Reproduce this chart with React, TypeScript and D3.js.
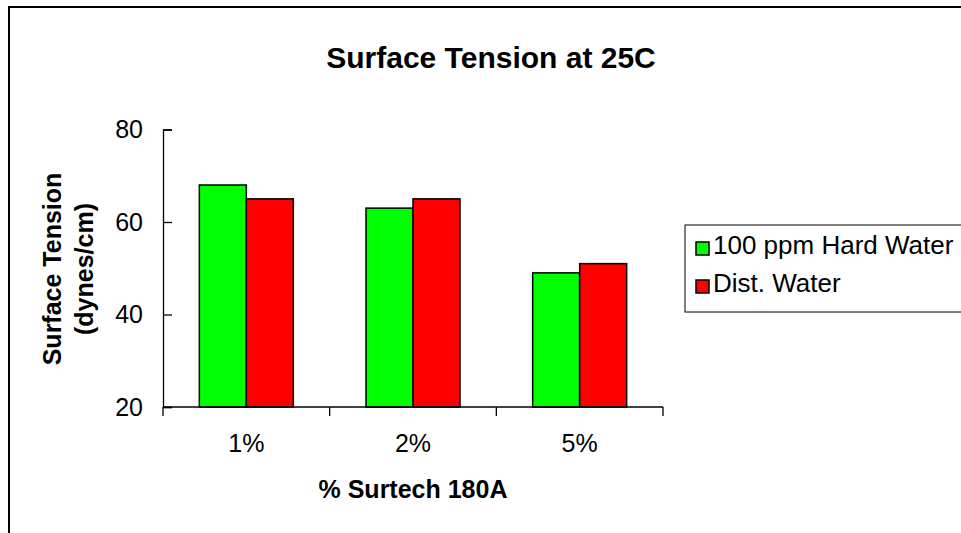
import { useEffect, useRef } from "react";
import * as d3 from "d3";

const categories = ["1%", "2%", "5%"];
const seriesNames = ["100 ppm Hard Water", "Dist. Water"];
const hardWater = [68, 63, 49];
const distWater = [65, 65, 51];
const yTicks = [20, 40, 60, 80];
const colors = ["#00ff00", "#ff0000"];

const FONT = "Arial, 'Liberation Sans', sans-serif";

const App = () => {
  const chartRef = useRef<SVGSVGElement | null>(null);

  useEffect(() => {
    const svg = d3.select(chartRef.current);
    svg.selectAll("*").remove();

    const W = 961;
    const H = 533;
    const plot = { left: 163, right: 663, top: 129.5, bottom: 407 };

    // outer chart border (only top/left visible in the crop)
    svg
      .append("rect")
      .attr("x", 9)
      .attr("y", 7)
      .attr("width", W + 20)
      .attr("height", H + 20)
      .attr("fill", "#fff")
      .attr("stroke", "#000")
      .attr("stroke-width", 2);

    const x0 = d3
      .scaleBand()
      .domain(categories)
      .range([plot.left, plot.right])
      .paddingInner(0.436)
      .paddingOuter(0.218);
    const x1 = d3.scaleBand().domain(seriesNames).range([0, x0.bandwidth()]);
    const y = d3.scaleLinear().domain([20, 80]).range([plot.bottom, plot.top]);

    const rows = categories.map((c, i) => ({
      cat: c,
      vals: [hardWater[i], distWater[i]],
    }));

    const groups = svg
      .append("g")
      .selectAll("g")
      .data(rows)
      .enter()
      .append("g")
      .attr("transform", (d) => `translate(${x0(d.cat)},0)`);

    groups
      .selectAll("rect")
      .data((d) => d.vals.map((v, j) => ({ name: seriesNames[j], v, j })))
      .enter()
      .append("rect")
      .attr("x", (d) => x1(d.name)!)
      .attr("y", (d) => y(d.v))
      .attr("width", x1.bandwidth())
      .attr("height", (d) => y(20) - y(d.v))
      .attr("fill", (d) => colors[d.j])
      .attr("stroke", "#000")
      .attr("stroke-width", 1.5);

    // y axis, ticks pointing inward
    const yAxis = svg
      .append("g")
      .attr("transform", `translate(${plot.left},0)`)
      .call(d3.axisLeft(y).tickValues(yTicks).tickSize(-9).tickPadding(20));
    yAxis.selectAll("text").style("font-family", FONT).style("font-size", "25px").attr("fill", "#000");
    yAxis.selectAll("line,path").attr("stroke", "#000").attr("stroke-width", 1.3);

    // x axis with ticks between categories
    const xEdges = d3.scaleLinear().domain([0, categories.length]).range([plot.left, plot.right]);
    const xAxis = svg.append("g");
    xAxis
      .append("line")
      .attr("x1", plot.left)
      .attr("x2", plot.right)
      .attr("y1", plot.bottom)
      .attr("y2", plot.bottom)
      .attr("stroke", "#000")
      .attr("stroke-width", 1.3);
    xAxis
      .selectAll(".xt")
      .data(d3.range(categories.length + 1))
      .enter()
      .append("line")
      .attr("x1", (d) => xEdges(d))
      .attr("x2", (d) => xEdges(d))
      .attr("y1", plot.bottom)
      .attr("y2", plot.bottom + 9)
      .attr("stroke", "#000")
      .attr("stroke-width", 1.3);
    xAxis
      .selectAll(".xl")
      .data(categories)
      .enter()
      .append("text")
      .attr("x", (d) => x0(d)! + x0.bandwidth() / 2)
      .attr("y", 452)
      .attr("text-anchor", "middle")
      .style("font-family", FONT)
      .style("font-size", "25px")
      .text((d) => d);

    // title
    svg
      .append("text")
      .attr("x", 491)
      .attr("y", 68)
      .attr("text-anchor", "middle")
      .style("font-family", FONT)
      .style("font-size", "30px")
      .style("font-weight", "bold")
      .text("Surface Tension at 25C");

    svg
      .append("text")
      .attr("x", (plot.left + plot.right) / 2)
      .attr("y", 498)
      .attr("text-anchor", "middle")
      .style("font-family", FONT)
      .style("font-size", "25px")
      .style("font-weight", "bold")
      .text("% Surtech 180A");

    const yTitle = svg
      .append("text")
      .attr("transform", "translate(61,269) rotate(-90)")
      .attr("text-anchor", "middle")
      .style("font-family", FONT)
      .style("font-size", "25px")
      .style("font-weight", "bold");
    yTitle.append("tspan").attr("x", 0).attr("dy", 0).text("Surface Tension");
    yTitle.append("tspan").attr("x", 0).attr("dy", 32).text("(dynes/cm)");

    // legend
    const lg = svg.append("g");
    lg.append("rect")
      .attr("x", 685)
      .attr("y", 225)
      .attr("width", 300)
      .attr("height", 87)
      .attr("fill", "#fff")
      .attr("stroke", "#000")
      .attr("stroke-width", 1);
    const items = lg
      .selectAll(".li")
      .data(seriesNames)
      .enter()
      .append("g")
      .attr("transform", (d, i) => `translate(696,${242 + i * 38})`);
    items
      .append("rect")
      .attr("width", 13)
      .attr("height", 13)
      .attr("fill", (d, i) => colors[i])
      .attr("stroke", "#000")
      .attr("stroke-width", 1.5);
    items
      .append("text")
      .attr("x", 17)
      .attr("y", 12)
      .style("font-family", FONT)
      .style("font-size", "26px")
      .text((d) => d);
  }, []);

  return (
    <div style={{ position: "fixed", left: 0, top: 0 }}>
      <svg ref={chartRef} width={961} height={533} style={{ display: "block" }} />
    </div>
  );
};

export default App;
